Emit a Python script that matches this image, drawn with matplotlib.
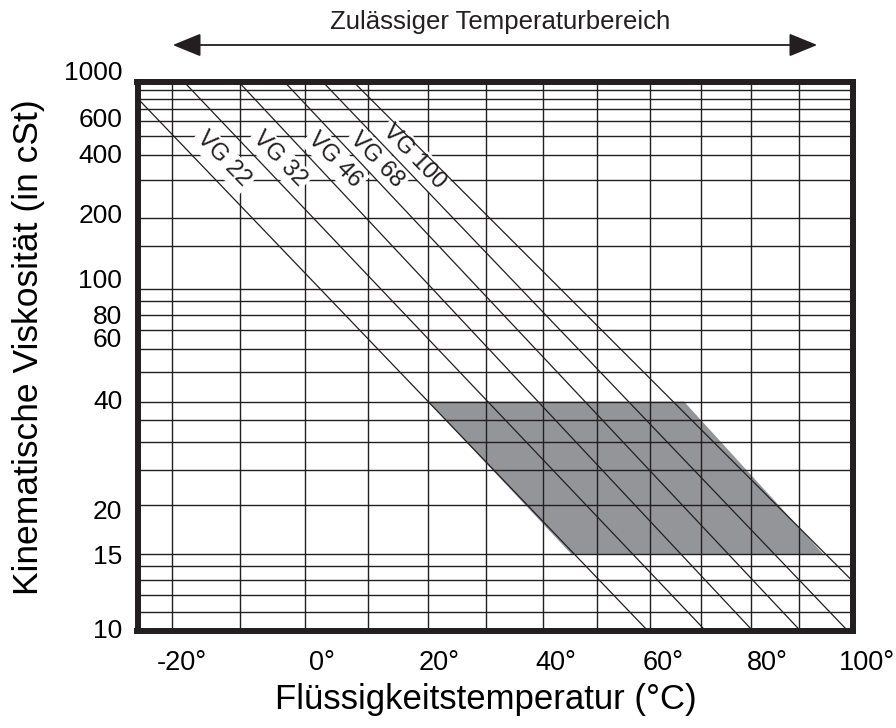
import numpy as np
import matplotlib
matplotlib.use('Agg')
import matplotlib.pyplot as plt
from matplotlib.patches import Polygon, FancyArrowPatch
from matplotlib.ticker import NullFormatter, NullLocator
from matplotlib.transforms import offset_copy

plt.rcParams['font.family'] = ['Liberation Sans', 'DejaVu Sans']

# ---------------- data ----------------
grid_temps = [-30, -20, -10, 0, 10, 20, 30, 40, 50, 60, 70, 80]
grid_visc = [10, 11, 12, 13, 14, 15, 20, 25, 30, 35, 40, 50, 60, 70, 80, 90,
             100, 150, 200, 300, 400, 500, 600, 700, 800, 900, 1000]
# axis labels as printed in the original chart (positions where they sit)
visc_labels = ['10', '15', '20', '40', '60', '80', '100', '200', '400', '600', '1000']
visc_label_pos = [10.1, 15, 19.4, 40.5, 66, 80, 110, 210, 405, 628, 1170]
temp_labels = ['-20°', '0°', '20°', '40°', '60°', '80°', '100°']
temp_label_pos = [-28.6, -7.3, 11.8, 32.4, 52.6, 73.3, 94.6]

# viscosity lines: temperature at 1000 cSt and at 10 cSt
line_T_at_1000 = [-37.2, -28.3, -20.2, -13.2, -7.2, -2.3]
line_T_at_10 = [49.6, 60.9, 70.4, 80.3, 90.4, 102.4]
line_v_ends = [1000, 10]

vg_labels = ['VG 22', 'VG 32', 'VG 46', 'VG 68', 'VG 100']
vg_label_T = [-22.5, -14.0, -5.3, 1.5, 7.6]
vg_label_v = [380, 380, 377, 377, 392]

# permissible operating region
shade_T = [10.0, 56.6, 85.1, 35.2]
shade_v = [40, 40, 15, 15]

xlim = (-35, 91.5)
ylim = (10, 1000)

# ---------------- scales (Ubbelohde/Walther style chart) ----------------
def xf(t):
    return np.log10(np.asarray(t, float) + 273.15)

def xi(u):
    return 10 ** np.asarray(u, float) - 273.15

def yf(v):
    v = np.asarray(v, float)
    return np.log10(np.log10(np.maximum(v + 0.7, 1.0001)))

def yi(u):
    return 10 ** (10 ** np.asarray(u, float)) - 0.7

W, H = 896, 728
fig = plt.figure(figsize=(W / 100, H / 100), dpi=100)
ax = fig.add_axes([137.5 / W, 1 - 631 / H, (853 - 137.5) / W, (631 - 82) / H])
ax.set_xscale('function', functions=(xf, xi))
ax.set_yscale('function', functions=(yf, yi))

dark = '#231f20'

# shaded region
ax.add_patch(Polygon(list(zip(shade_T, shade_v)), closed=True,
                     facecolor='#939598', edgecolor='none', zorder=0.2))

# grid
ax.xaxis.remove_overlapping_locs = False
ax.yaxis.remove_overlapping_locs = False
ax.set_xticks(grid_temps, minor=True)
ax.set_yticks(grid_visc, minor=True)
ax.xaxis.set_minor_formatter(NullFormatter())
ax.yaxis.set_minor_formatter(NullFormatter())
ax.xaxis.set_major_locator(NullLocator())
ax.yaxis.set_major_locator(NullLocator())
ax.set_axisbelow(True)
ax.xaxis.grid(True, which='minor', color=dark, linewidth=1.0)
ax.yaxis.grid(True, which='minor', color=dark, linewidth=1.0)
ax.tick_params(which='both', length=0)

ax.set_xlim(*xlim)
ax.set_ylim(*ylim)

# temperature labels
xlab_tr = offset_copy(ax.get_xaxis_transform(), fig=fig, x=0, y=-14, units='points')
for t, lab in zip(temp_label_pos, temp_labels):
    ax.text(t, 0, lab, transform=xlab_tr, ha='center', va='top', fontsize=19.5,
            color='black', clip_on=False)

# viscosity labels
ylab_tr = offset_copy(ax.get_yaxis_transform(), fig=fig, x=-11, y=0, units='points')
for v, lab in zip(visc_label_pos, visc_labels):
    ax.text(0, v, lab, transform=ylab_tr, ha='right', va='center_baseline', fontsize=19,
            color='black', clip_on=False)

# viscosity lines
for t1, t2 in zip(line_T_at_1000, line_T_at_10):
    ax.plot([t1, t2], line_v_ends, color=dark, linewidth=0.9, zorder=2)

# VG labels
for lab, t, v in zip(vg_labels, vg_label_T, vg_label_v):
    ax.text(t, v, lab, rotation=-46, rotation_mode='anchor', ha='center', va='center',
            fontsize=17, color=dark, zorder=1.5,
            bbox=dict(boxstyle='square,pad=0.12', facecolor='white', edgecolor='none'))

for s in ax.spines.values():
    s.set_linewidth(4.3)
    s.set_color(dark)
    s.set_zorder(3)

fig.text(486 / W, 1 - 700 / H, 'Flüssigkeitstemperatur (°C)', fontsize=25,
         ha='center', va='center', color='black')
fig.text(29 / W, 1 - 347 / H, 'Kinematische Viskosität (in cSt)', fontsize=25.5,
         rotation=90, ha='center', va='center', color='black')

# permissible temperature range arrow
fig.text(500 / W, 1 - 22 / H, 'Zulässiger Temperaturbereich', fontsize=18.5,
         ha='center', va='center', color=dark)
arrow = FancyArrowPatch((170 / W, 1 - 45 / H), (820 / W, 1 - 45 / H),
                        transform=fig.transFigure, arrowstyle='<|-|>,head_length=1.1,head_width=0.45',
                        mutation_scale=16, color=dark, linewidth=1.3)
fig.add_artist(arrow)

fig.savefig('out.png', dpi=100)
